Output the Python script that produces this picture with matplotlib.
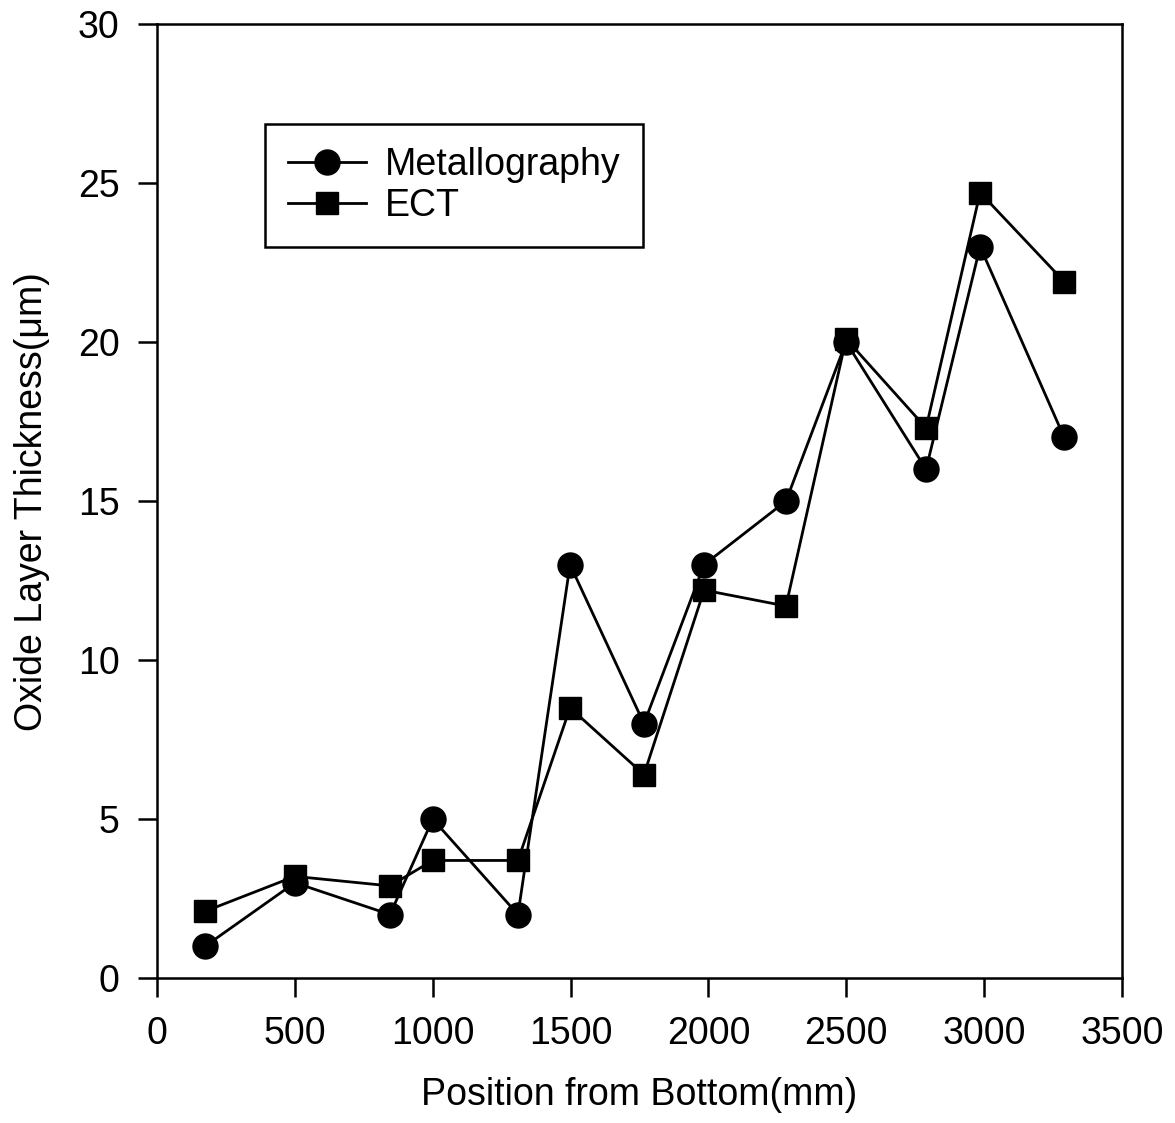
import matplotlib.pyplot as plt
from matplotlib.lines import Line2D

plt.rcParams['font.family'] = ['Liberation Sans', 'DejaVu Sans']

# datos
posicion = [174, 500, 845, 1000, 1309, 1498, 1766, 1984, 2281, 2499, 2789, 2985, 3290]
metalografia = [1.0, 3.0, 2.0, 5.0, 2.0, 13.0, 8.0, 13.0, 15.0, 20.0, 16.0, 23.0, 17.0]
ect = [2.1, 3.2, 2.9, 3.7, 3.7, 8.5, 6.4, 12.2, 11.7, 20.1, 17.3, 24.7, 21.9]
xticks = [0, 500, 1000, 1500, 2000, 2500, 3000, 3500]
yticks = [0, 5, 10, 15, 20, 25, 30]

fig = plt.figure(figsize=(11.75, 11.23), dpi=100)
ax = fig.add_axes([0.1336, 0.129, 0.8214, 0.8496])

ax.plot(posicion, metalografia, color='black', lw=2, marker='o', ms=18,
        label='Metallography')
ax.plot(posicion, ect, color='black', lw=2, marker='s', ms=16,
        label='ECT')

ax.set_xlim(0, 3500)
ax.set_ylim(0, 30)
ax.set_xticks(xticks)
ax.set_yticks(yticks)
ax.tick_params(direction='out', length=14, width=1.8, pad=13, labelsize=27)

for s in ax.spines.values():
    s.set_linewidth(1.8)

ax.set_xlabel('Position from Bottom(mm)', fontsize=27, labelpad=18)
ax.set_ylabel('Oxide Layer Thickness(\u03bcm)', fontsize=27, labelpad=20)

handles = [
    Line2D([], [], color='black', lw=2, marker='o', ms=18),
    Line2D([], [], color='black', lw=2, marker='s', ms=16),
]
leg = ax.legend(handles, ['Metallography', 'ECT'], loc='upper left',
                bbox_to_anchor=(0.112, 0.895), fontsize=27, fancybox=False,
                framealpha=1, edgecolor='black', handlelength=2.1,
                labelspacing=0.15, borderpad=0.6, handletextpad=0.5,
                borderaxespad=0)
leg.get_frame().set_linewidth(1.8)

plt.savefig('out.png', dpi=100)
